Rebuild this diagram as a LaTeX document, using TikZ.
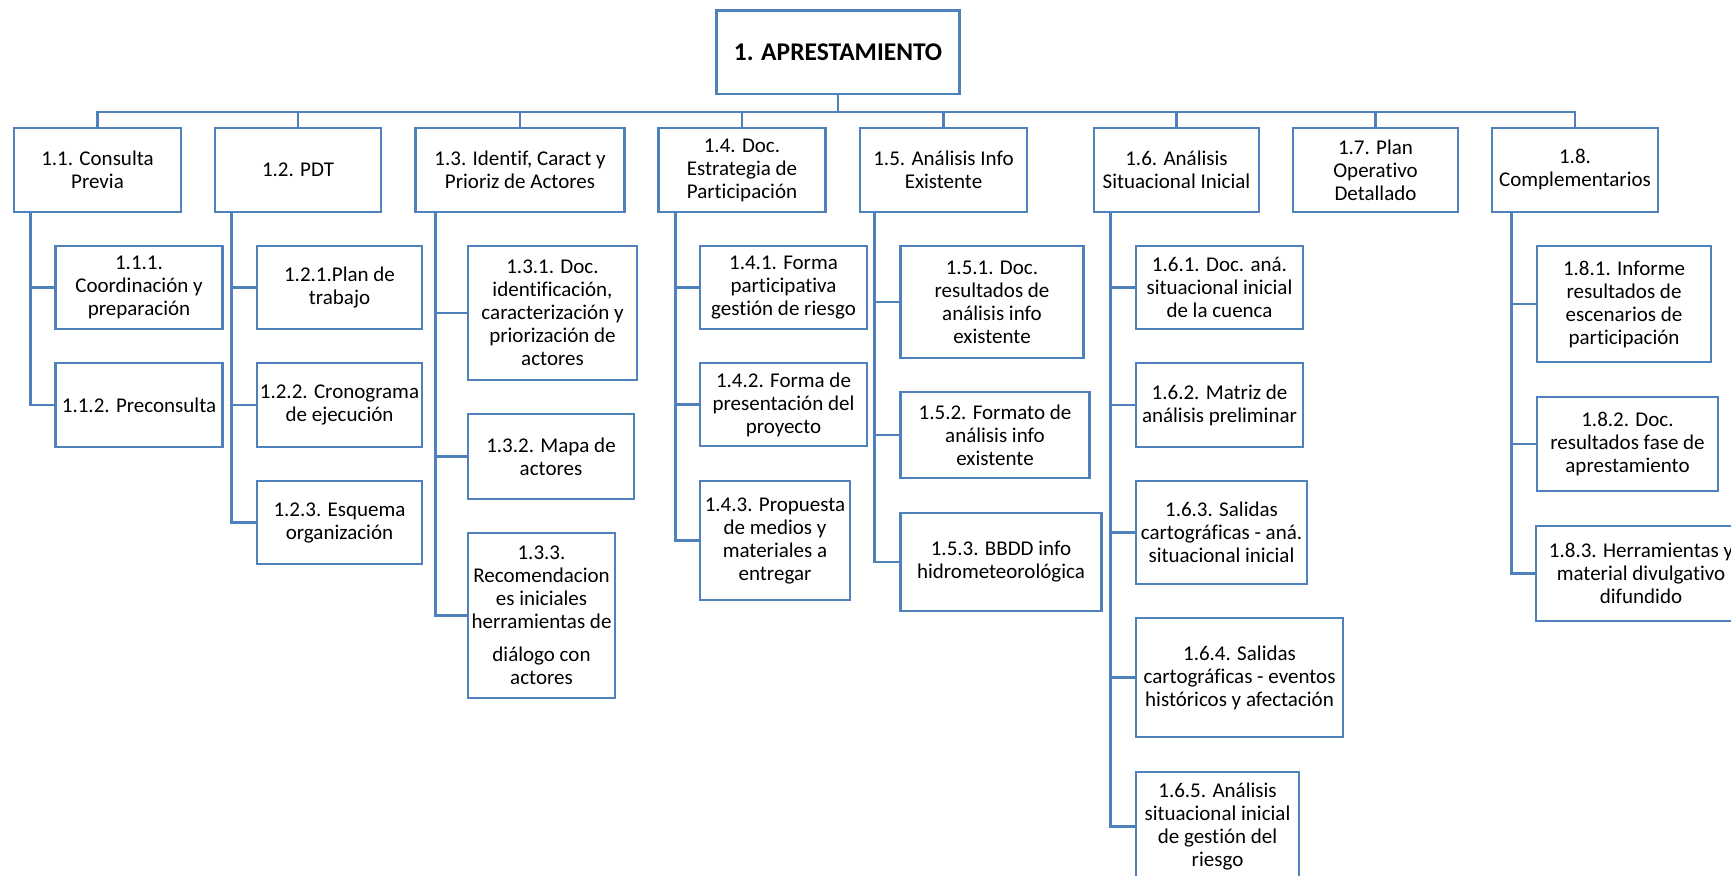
\documentclass[tikz,border=0pt]{standalone}
\usepackage{fontspec}
\setmainfont{Carlito}[Ligatures={NoCommon}]
\usepackage {tikz}
\usetikzlibrary {positioning}
\definecolor{azul}{RGB}{79,129,189}

\begin{document}
\begin{tikzpicture}[x=1pt,y=-1pt,
semithick ,
tarea/.style ={draw=azul, line width=2.6pt, fill=white, align=center, inner sep=0pt,
  font=\fontsize{21}{23}\selectfont},
fase/.style ={tarea, font=\fontsize{21}{23}\selectfont, minimum height=84},
linea/.style = {draw=azul, line width=2.6pt}]

\useasboundingbox (0,0) rectangle (1731,875);

\node[tarea, minimum width=243, minimum height=83, font=\fontsize{25.5}{28}\selectfont\bfseries] (APR) at (838,52.3) {1. APRESTAMIENTO};

\node[fase, minimum width=167] (F_1) at (97.5,170) {1.1. Consulta\\Previa};
\node[fase, minimum width=166] (F_2) at (298,170) {1.2. PDT};
\node[fase, minimum width=208.5] (F_3) at (520,170) {1.3. Identif, Caract y\\Prioriz de Actores};
\node[fase, minimum width=166.5] (F_4) at (742,170) {1.4. Doc.\\Estrategia de\\Participación};
\node[fase, minimum width=167] (F_5) at (943.5,170) {1.5. Análisis Info\\Existente};
\node[fase, minimum width=165] (F_6) at (1176.5,170) {1.6. Análisis\\Situacional Inicial};
\node[fase, minimum width=165] (F_7) at (1375.5,170) {1.7. Plan\\Operativo\\Detallado};
\node[fase, minimum width=166] (F_8) at (1575,170) {1.8.\\Complementarios};

\node[tarea, minimum width=166.5, minimum height=83] (T_11) at (139,287.5) {1.1.1.\\Coordinación y\\preparación};
\node[tarea, minimum width=166.5, minimum height=84] (T_12) at (139,405) {1.1.2. Preconsulta};

\node[tarea, minimum width=165, minimum height=83] (T_21) at (339.5,287.5) {1.2.1.Plan de\\trabajo};
\node[tarea, minimum width=165, minimum height=84] (T_22) at (339.5,405) {1.2.2. Cronograma\\de ejecución};
\node[tarea, minimum width=165, minimum height=83] (T_23) at (339.5,522.5) {1.2.3. Esquema\\organización};

\node[tarea, minimum width=169, minimum height=134] (T_31) at (552.5,313) {1.3.1. Doc.\\identificación,\\caracterización y\\priorización de\\actores};
\node[tarea, minimum width=166, minimum height=85] (T_32) at (551,456.5) {1.3.2. Mapa de\\actores};
\node[tarea, minimum width=147, minimum height=165] (T_33) at (541.5,615.5) {1.3.3.\\Recomendacion\\es iniciales\\herramientas de\\[10pt]diálogo con\\actores};

\node[tarea, minimum width=167, minimum height=83] (T_41) at (783.5,287.5) {1.4.1. Forma\\participativa\\gestión de riesgo};
\node[tarea, minimum width=167, minimum height=83] (T_42) at (783.5,404.5) {1.4.2. Forma de\\presentación del\\proyecto};
\node[tarea, minimum width=150, minimum height=119] (T_43) at (775,540.5) {1.4.3. Propuesta\\de medios y\\materiales a\\entregar};

\node[tarea, minimum width=183.5, minimum height=112] (T_51) at (992,302) {1.5.1. Doc.\\resultados de\\análisis info\\existente};
\node[tarea, minimum width=188.5, minimum height=86] (T_52) at (995,435) {1.5.2. Formato de\\análisis info\\existente};
\node[tarea, minimum width=201.5, minimum height=98] (T_53) at (1001,562) {1.5.3. BBDD info\\hidrometeorológica};

\node[tarea, minimum width=167, minimum height=83] (T_61) at (1219.5,287.5) {1.6.1. Doc. aná.\\situacional inicial\\de la cuenca};
\node[tarea, minimum width=167, minimum height=84] (T_62) at (1219.5,405) {1.6.2. Matriz de\\análisis preliminar};
\node[tarea, minimum width=171, minimum height=103] (T_63) at (1221.5,532.5) {1.6.3. Salidas\\cartográficas - aná.\\situacional inicial};
\node[tarea, minimum width=207, minimum height=119] (T_64) at (1239.5,677.5) {1.6.4. Salidas\\cartográficas - eventos\\históricos y afectación};
\node[tarea, minimum width=163, minimum height=109] (T_65) at (1217.5,826.5) {1.6.5. Análisis\\situacional inicial\\de gestión del\\riesgo};

\node[tarea, minimum width=174, minimum height=116] (T_81) at (1624,304) {1.8.1. Informe\\resultados de\\escenarios de\\participación};
\node[tarea, minimum width=181, minimum height=94] (T_82) at (1627.5,444) {1.8.2. Doc.\\resultados fase de\\aprestamiento};
\node[tarea, minimum width=210, minimum height=95] (T_83) at (1641,573.5) {1.8.3. Herramientas y\\material divulgativo\\difundido};

\draw[linea] (APR.south) -- ++(0,17) -| (F_1.north);
\draw[linea] (APR.south) -- ++(0,17) -| (F_2.north);
\draw[linea] (APR.south) -- ++(0,17) -| (F_3.north);
\draw[linea] (APR.south) -- ++(0,17) -| (F_4.north);
\draw[linea] (APR.south) -- ++(0,17) -| (F_5.north);
\draw[linea] (APR.south) -- ++(0,17) -| (F_6.north);
\draw[linea] (APR.south) -- ++(0,17) -| (F_7.north);
\draw[linea] (APR.south) -- ++(0,17) -| (F_8.north);

\draw[linea] (F_1.south west) ++(18,0) |- (T_11.west);
\draw[linea] (F_1.south west) ++(18,0) |- (T_12.west);

\draw[linea] (F_2.south west) ++(18,0) |- (T_21.west);
\draw[linea] (F_2.south west) ++(18,0) |- (T_22.west);
\draw[linea] (F_2.south west) ++(18,0) |- (T_23.west);

\draw[linea] (F_3.south west) ++(21,0) |- (T_31.west);
\draw[linea] (F_3.south west) ++(21,0) |- (T_32.west);
\draw[linea] (F_3.south west) ++(21,0) |- (T_33.west);

\draw[linea] (F_4.south west) ++(18,0) |- (T_41.west);
\draw[linea] (F_4.south west) ++(18,0) |- (T_42.west);
\draw[linea] (F_4.south west) ++(18,0) |- (T_43.west);

\draw[linea] (F_5.south west) ++(16,0) |- (T_51.west);
\draw[linea] (F_5.south west) ++(16,0) |- (T_52.west);
\draw[linea] (F_5.south west) ++(16,0) |- (T_53.west);

\draw[linea] (F_6.south west) ++(18,0) |- (T_61.west);
\draw[linea] (F_6.south west) ++(18,0) |- (T_62.west);
\draw[linea] (F_6.south west) ++(18,0) |- (T_63.west);
\draw[linea] (F_6.south west) ++(18,0) |- (T_64.west);
\draw[linea] (F_6.south west) ++(18,0) |- (T_65.west);

\draw[linea] (F_8.south west) ++(21,0) |- (T_81.west);
\draw[linea] (F_8.south west) ++(21,0) |- (T_82.west);
\draw[linea] (F_8.south west) ++(21,0) |- (T_83.west);

\end{tikzpicture}
\end{document}
